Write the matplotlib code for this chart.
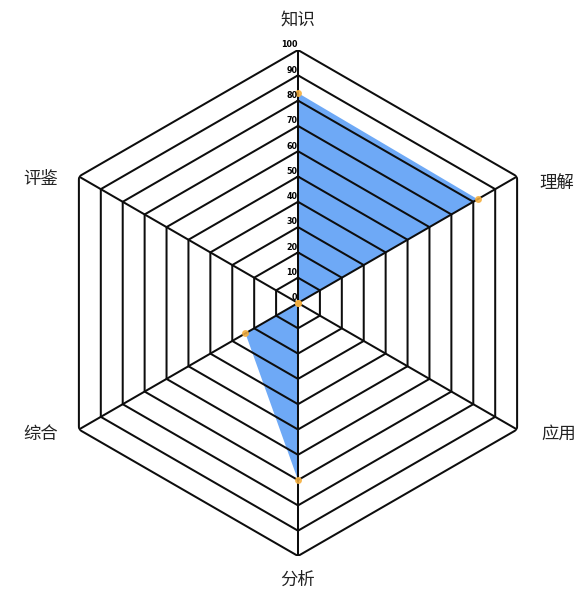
import numpy as np
import matplotlib
matplotlib.use("Agg")
import matplotlib.pyplot as plt

plt.rcParams['font.family'] = ['Noto Sans CJK SC', 'DejaVu Sans']

categories = ['知识', '理解', '应用', '分析', '综合', '评鉴']
values = [83, 82, 0, 70, 24, 0]
levels = [10, 20, 30, 40, 50, 60, 70, 80, 90, 100]
tick_labels = ['0', '10', '20', '30', '40', '50', '60', '70', '80', '90', '100']

W, H = 582, 597
fig = plt.figure(figsize=(W / 100, H / 100), dpi=100)
cx, cy, R = 298, 303, 253
ax = fig.add_axes([(cx - R) / W, (H - cy - R) / H, 2 * R / W, 2 * R / H], projection='polar')
ax.set_theta_offset(np.pi / 2)
ax.set_theta_direction(-1)
ax.set_ylim(0, 100)
ax.grid(False)
ax.spines['polar'].set_visible(False)
ax.set_xticks([])
ax.set_yticks([])
ax.patch.set_visible(False)

n = len(categories)
angles = np.arange(n) * 2 * np.pi / n
ang_closed = np.concatenate([angles, angles[:1]])

# data fill
vals_closed = np.array(values + values[:1], dtype=float)
ax.fill(ang_closed, vals_closed, color='#6ea9f6', zorder=1, linewidth=0)

# grid hexagons
for lv in levels:
    ax.plot(ang_closed, [lv] * (n + 1), color='#0d0d0d', lw=1.45, zorder=2)
# spokes
for a in angles:
    ax.plot([a, a], [0, 100], color='#0d0d0d', lw=1.45, zorder=2)

# markers
ax.plot(angles, values, linestyle='none', marker='o', markersize=4,
        color='#f5b041', alpha=0.85, zorder=3)

# radial tick labels
for lv, lab in zip([0] + levels, tick_labels):
    ax.annotate(lab, xy=(0, lv), xytext=(-0.5, 0.5), textcoords='offset points',
                ha='right', va='bottom', fontsize=5.8, fontweight='bold',
                family='DejaVu Sans', zorder=4)

# category labels
px = 0.72
offsets = [((0, 30), 'center'), ((22, -6), 'left'), ((24, -4), 'left'),
           ((0, -24), 'center'), ((-21, -4), 'right'), ((-21, -3), 'right')]
for a, lab, (off, ha) in zip(angles, categories, offsets):
    ax.annotate(lab, xy=(a, 100), xytext=(off[0] * px, off[1] * px),
                textcoords='offset points', ha=ha, va='center', fontsize=12.5,
                fontweight='medium', color='#222222', annotation_clip=False)

fig.savefig('out.png', dpi=100)
